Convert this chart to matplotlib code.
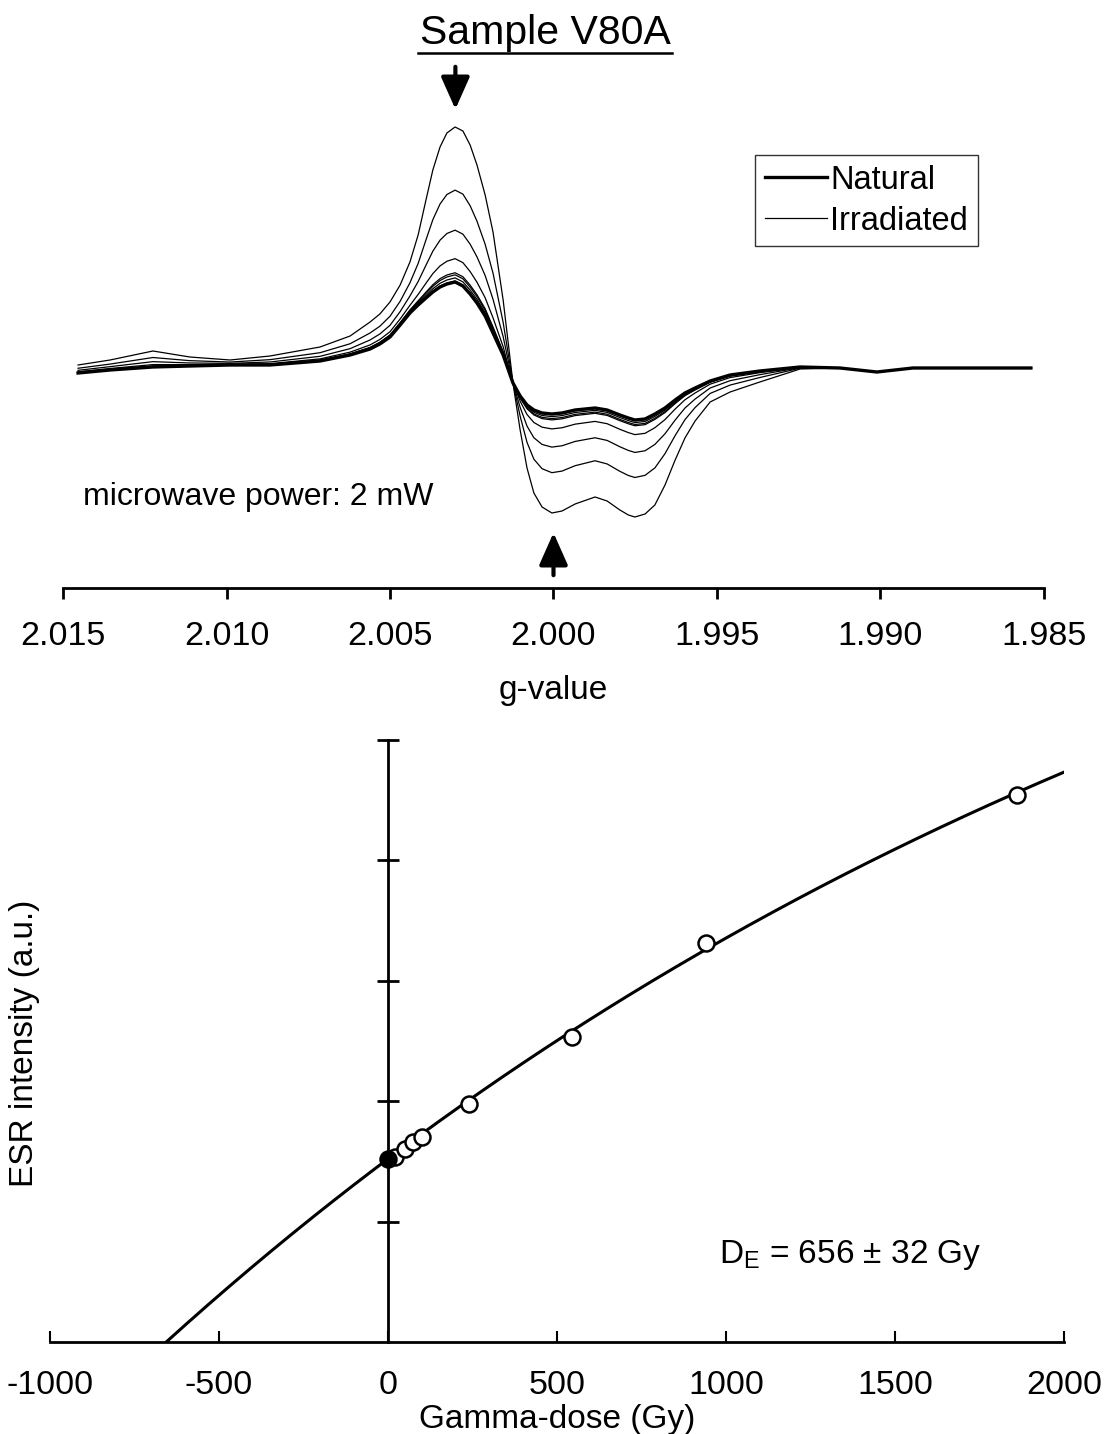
import numpy as np
import matplotlib
matplotlib.use("Agg")
import matplotlib.pyplot as plt
from matplotlib.lines import Line2D

plt.rcParams['font.family'] = ['Liberation Sans', 'DejaVu Sans']
plt.rcParams['mathtext.fontset'] = 'custom'
plt.rcParams['mathtext.rm'] = 'Liberation Sans'
plt.rcParams['mathtext.it'] = 'Liberation Sans'
plt.rcParams['axes.unicode_minus'] = False

# ---- ESR spectra (a.u.) ----
g_values = [2.01454, 2.01356, 2.01225, 2.01112, 2.00989, 2.00867, 2.00714, 2.00622, 2.00561, 2.00531,
            2.00500, 2.00469, 2.00439, 2.00414, 2.00390, 2.00369, 2.00347, 2.00326, 2.00301, 2.00277,
            2.00255, 2.00234, 2.00209, 2.00185, 2.00154, 2.00124, 2.00102, 2.00081, 2.00060, 2.00035,
            2.00005, 1.99974, 1.99934, 1.99873, 1.99836, 1.99797, 1.99771, 1.99751, 1.99720, 1.99690,
            1.99659, 1.99628, 1.99598, 1.99567, 1.99521, 1.99460, 1.99369, 1.99246, 1.99124, 1.99011,
            1.98901, 1.98757, 1.98540]
natural_sig = [-0.3, 0.0, 0.3, 0.4, 0.5, 0.5, 0.9, 1.5, 2.1, 2.6,
               3.3, 4.5, 5.7, 6.5, 7.2, 7.8, 8.3, 8.6, 8.8, 8.4,
               7.6, 6.7, 5.4, 3.7, 1.5, -1.3, -2.6, -3.5, -4.0, -4.3,
               -4.4, -4.3, -4.0, -3.8, -4.0, -4.5, -4.8, -5.0, -4.9, -4.4,
               -3.8, -3.0, -2.3, -1.8, -1.1, -0.5, -0.1, 0.3, 0.2, -0.2,
               0.2, 0.2, 0.2]
max_dose_sig = [0.5, 1.0, 1.9, 1.3, 1.0, 1.4, 2.3, 3.4, 4.8, 5.6,
                6.8, 8.5, 10.8, 13.5, 17.0, 20.0, 22.3, 23.7, 24.3, 23.9,
                22.5, 20.5, 17.5, 13.8, 7.0, -1.3, -6.0, -9.8, -12.3, -13.7,
                -14.3, -14.1, -13.4, -12.7, -13.1, -14.0, -14.5, -14.7, -14.4, -13.5,
                -11.5, -9.0, -6.8, -5.1, -3.2, -2.2, -1.2, 0.1, 0.2, -0.2,
                0.2, 0.2, 0.2]

# ---- dose response ----
dose = [0, 20, 50, 75, 100, 240, 545, 940, 1860]
intensity = [1.52, 1.54, 1.60, 1.66, 1.70, 1.975, 2.53, 3.31, 4.54]
DE = 656
D0 = 3500
I_sat = 8.9

fig = plt.figure(figsize=(11.05, 14.34), dpi=100)
W, H = 1105, 1434

def box(x0, x1, y0, y1):
    return [x0 / W, 1 - y1 / H, (x1 - x0) / W, (y1 - y0) / H]

# top panel: spectra
ax1 = fig.add_axes(box(63, 1044, 100, 588))
g = np.array(g_values)
nat = np.array(natural_sig)
big = np.array(max_dose_sig)
I = np.array(intensity)
for k in range(len(dose) - 1, 0, -1):
    f = (I[k] - I[0]) / (I[-1] - I[0])
    ax1.plot(g, nat + f * (big - nat), color='black', lw=0.9)
ax1.plot(g, nat, color='black', lw=2.4)
ax1.set_xlim(2.015, 1.985)
ax1.set_ylim(-21.8, 27)
ax1.set_xticks([2.015, 2.010, 2.005, 2.000, 1.995, 1.990, 1.985])
ax1.set_xticklabels(['2.015', '2.010', '2.005', '2.000', '1.995', '1.990', '1.985'])
ax1.set_yticks([])
for s in ['left', 'right', 'top']:
    ax1.spines[s].set_visible(False)
ax1.spines['bottom'].set_linewidth(2)
ax1.tick_params(axis='x', direction='out', length=8, width=2, labelsize=24.5, pad=16)
ax1.set_xlabel('g-value', fontsize=24, labelpad=16)
ax1.text(0.02, 0.17, 'microwave power: 2 mW', transform=ax1.transAxes, fontsize=23)
astyle = '-|>,head_length=0.9,head_width=0.4'
ax1.annotate('', xy=(2.003, 25.8), xytext=(2.003, 30.6), annotation_clip=False,
             arrowprops=dict(arrowstyle=astyle, color='black', lw=3, mutation_scale=22))
ax1.annotate('', xy=(2.000, -16.0), xytext=(2.000, -20.8), annotation_clip=False,
             arrowprops=dict(arrowstyle=astyle, color='black', lw=3, mutation_scale=22))
handles = [Line2D([], [], color='black', lw=2.4), Line2D([], [], color='black', lw=0.9)]
leg = ax1.legend(handles, ['Natural', 'Irradiated'], loc='upper left',
                 bbox_to_anchor=((755 - 63) / 981, 1 - (155 - 100) / 488), fontsize=23.5,
                 frameon=True, fancybox=False, edgecolor='black', handlelength=1.9,
                 handletextpad=0.1, borderpad=0.3, labelspacing=0.3, borderaxespad=0)
leg.get_frame().set_linewidth(1.0)

# title with underline
fig.text(545 / W, 1 - 33 / H, 'Sample V80A', fontsize=29.5, ha='center', va='center')
fig.add_artist(Line2D([418 / W, 672 / W], [1 - 53 / H, 1 - 53 / H], color='black', lw=1.8))

# bottom panel: dose response
ax2 = fig.add_axes(box(50, 1064, 740, 1342))
dfit = np.linspace(-DE, 2000, 300)
ax2.plot(dfit, I_sat * (1 - np.exp(-(dfit + DE) / D0)), color='black', lw=2.2)
ax2.plot(dose[1:], intensity[1:], 'o', mfc='white', mec='black', ms=11.5, mew=1.8)
ax2.plot(dose[:1], intensity[:1], 'o', mfc='black', mec='black', ms=11.5, mew=1.8)
ax2.set_xlim(-1000, 2000)
ax2.set_ylim(0, 5)
ax2.set_xticks([-1000, -500, 0, 500, 1000, 1500, 2000])
ax2.set_yticks([1, 2, 3, 4, 5])
ax2.set_yticklabels([])
ax2.spines['left'].set_position(('data', 0))
ax2.spines['left'].set_linewidth(2)
ax2.spines['bottom'].set_linewidth(2)
for s in ['right', 'top']:
    ax2.spines[s].set_visible(False)
ax2.tick_params(axis='x', direction='in', length=8, width=1.5, labelsize=24.5, pad=20)
ax2.tick_params(axis='y', direction='inout', length=16, width=2)
ax2.set_xlabel('Gamma-dose (Gy)', fontsize=24, labelpad=2)
fig.text(25 / W, 1 - 1043 / H, 'ESR intensity (a.u.)', rotation=90, fontsize=24,
         ha='center', va='center')
ax2.text(1367, 0.72, r'D$_\mathrm{E}$ = 656 ± 32 Gy', fontsize=24, ha='center', va='center')

fig.savefig('out.png', dpi=100)
